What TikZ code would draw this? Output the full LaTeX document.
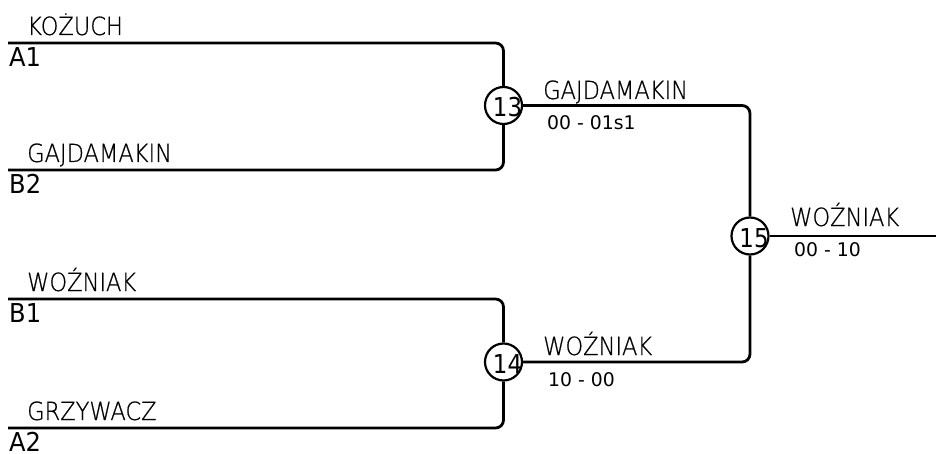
\documentclass[tikz,border=0pt]{standalone}
\usepackage{fontspec}
\setmainfont{DejaVu Sans}
\newfontfamily\lightfont[FakeStretch=0.9,FakeBold=0.6]{DejaVu Sans ExtraLight}
\newfontfamily\seedfont[FakeStretch=0.93]{DejaVu Sans}
\newfontfamily\numfont[FakeStretch=0.88]{DejaVu Sans}
\begin{document}
\begin{tikzpicture}[x=1pt,y=-1pt,
  wire/.style={line width=2.8pt, rounded corners=8pt},
  player/.style={font=\lightfont\fontsize{25}{27}\selectfont, anchor=base west, inner sep=0pt},
  seed/.style={font=\seedfont\fontsize{26}{28}\selectfont, anchor=base west, inner sep=0pt},
  score/.style={font=\fontsize{18.8}{22}\selectfont, anchor=base west, inner sep=0pt},
  gamenum/.style={font=\numfont\fontsize{26}{27}\selectfont, inner sep=0pt},
  game/.style={circle, draw, fill=white, minimum size=37pt, inner sep=0pt, line width=2.2pt}]
\useasboundingbox (0,0) rectangle (936,454);
\coordinate (a1) at (8,43);
\coordinate (b2) at (8,170);
\coordinate (b1) at (8,299);
\coordinate (a2) at (8,428);
\coordinate (out) at (936,236);
\node[game] (g13) at (503.5,105.5) {};
\node[game] (g14) at (503.5,362) {};
\node[game] (g15) at (750,236) {};
\draw[wire] (a1) -| (g13.north);
\draw[wire] (b2) -| (g13.south);
\draw[wire] (b1) -| (g14.north);
\draw[wire] (a2) -| (g14.south);
\draw[wire] (g13.east) -| (g15.north);
\draw[wire] (g14.east) -| (g15.south);
\draw[wire] (g15.east) -- (out);
\node[gamenum] (t13) at (507.5,107.5) {13};
\node[gamenum] (t14) at (507.5,364) {14};
\node[gamenum] (t15) at (754,238) {15};
\node[player] (n1) at (27,35) {KOŻUCH};
\node[seed] (s1) at (9,67) {A1};
\node[player] (n2) at (27,162) {GAJDAMAKIN};
\node[seed] (s2) at (9,194) {B2};
\node[player] (n3) at (27,291) {WOŹNIAK};
\node[seed] (s3) at (9,322) {B1};
\node[player] (n4) at (27,420) {GRZYWACZ};
\node[seed] (s4) at (9,451) {A2};
\node[player] (w13) at (543,99) {GAJDAMAKIN};
\node[score] (r13) at (547,130) {00 - 01s1};
\node[player] (w14) at (543,355) {WOŹNIAK};
\node[score] (r14) at (548,386) {10 - 00};
\node[player] (w15) at (790,226) {WOŹNIAK};
\node[score] (r15) at (794,256) {00 - 10};
\end{tikzpicture}
\end{document}
